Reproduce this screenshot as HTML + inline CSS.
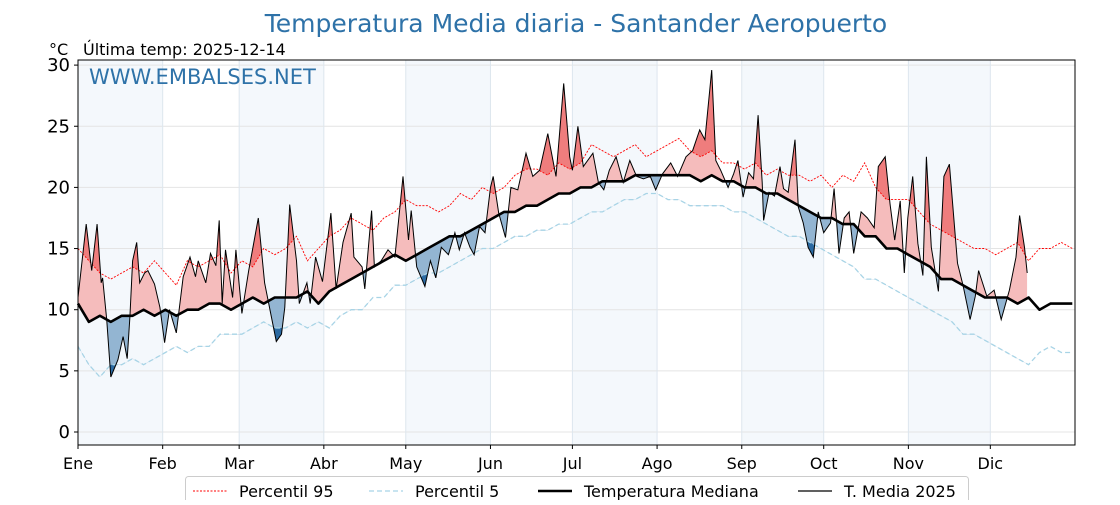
<!DOCTYPE html>
<html><head><meta charset="utf-8"><style>
body{margin:0;background:#fff;}
svg text{font-family:"DejaVu Sans","Liberation Sans",sans-serif;}
</style></head><body>
<svg id="chart" width="1120" height="500" xmlns="http://www.w3.org/2000/svg">
<text x="576" y="32" text-anchor="middle" font-size="25" fill="#2e72a8">Temperatura Media diaria - Santander Aeropuerto</text>
<text x="49" y="55" font-size="16" fill="#000">°C</text>
<text x="83" y="55" font-size="16" fill="#000">Última temp: 2025-12-14</text>
<g id="plot"></g>
</svg>
<script>
const months=["Ene","Feb","Mar","Abr","May","Jun","Jul","Ago","Sep","Oct","Nov","Dic"];
const monthStart=[0,31,59,90,120,151,181,212,243,273,304,334];
const yTicks=[0,5,10,15,20,25,30];
const step=4;
const median=[10.5,9,9.5,9,9.5,9.5,10,9.5, 10,9.5,10,10,10.5,10.5,10, 10.5,11,10.5,11,11,11,11.5,10.5, 11.5,12,12.5,13,13.5,14,14.5, 14,14.5,15,15.5,16,16,16.5,17, 17.5,18,18,18.5,18.5,19,19.5, 19.5,20,20,20.5,20.5,20.5,21,21, 21,21,21,21,20.5,21,20.5,20.5, 20,20,19.5,19.5,19,18.5,18, 17.5,17.5,17,17,16,16,15,15, 14.5,14,13.5,12.5,12.5,12,11.5,11, 11,11,10.5,11,10,10.5,10.5,10.5];
const p95=[15,14,13,12.5,13,13.5,13,14, 13,12,14,13.5,14,14.5,13, 14,13.5,15,14.5,15,16,14,15, 16,16.5,17.5,17,16.5,17.5,18, 19,18.5,18.5,18,18.5,19.5,19,20, 19.5,20,21,21.5,21.5,21,22, 21.5,22,23.5,23,22.5,23,23.5,22.5, 23,23.5,24,23,22.5,23,22,22, 21.5,22,21,21.5,21,21,20.5, 21,20,21,20.5,22,20,19,19, 19,18,17,16.5,16,15.5,15,15, 14.5,15,15.5,14,15,15,15.5,15];
const p5=[7,5.5,4.5,5.5,5.5,6,5.5,6, 6.5,7,6.5,7,7,8,8, 8,8.5,9,8.5,8.5,9,8.5,9, 8.5,9.5,10,10,11,11,12, 12,12.5,13,13,13.5,14,14.5,15, 15,15.5,16,16,16.5,16.5,17, 17,17.5,18,18,18.5,19,19,19.5, 19.5,19,19,18.5,18.5,18.5,18.5,18, 18,17.5,17,16.5,16,16,15.5, 15,14.5,14,13.5,12.5,12.5,12,11.5, 11,10.5,10,9.5,9,8,8,7.5, 7,6.5,6,5.5,6.5,7,6.5,6.5];
const t2025Days=[0,3,5,7,8.5,9,10.5,12,14.6,16.5,18,19,20,21.5,22.6,24.4,25.6,28,30,31.7,33.5,36,38.5,41,43,44,46.8,48.5,50.5,51.7,52.8,54,56.6,57.8,60,62.5,66,68.3,70.8,72.6,74.5,75.7,77.5,80,81,83.8,85,87,89.5,92.6,94.5,97,100,101,104,105,107.5,108.5,111,113.5,116,119,121,122,124,127,129,131,133,135.6,138,139.6,141.5,143.5,145,147,149,151,152,154,156.5,158.5,161,164,166.5,169,172,175,177.8,180,181,183,185,188.5,190.5,192.5,194.5,197,199.6,202,204.5,207,209.5,211.5,214,217,219.5,222.6,225,227.6,229.5,232,233.5,235.3,238,240,241.6,243.5,245.5,247.3,249,250.5,251,253,255,257,258.3,260,262.5,263.7,265.5,267.3,269.2,271,273,275.5,276.8,278.6,280.5,282.3,284,286.7,289,291.5,293,295.5,297.3,299,301,302.5,303.8,305.6,307.5,309.3,310.6,312.4,315,317,319,322,324,326.6,328.5,329.7,332.7,335.4,338,341,343.4,344.7,346.5,347.5];
const t2025Vals=[11,17,13.2,17,12.2,12.6,9.2,4.5,5.9,7.8,6,9.4,14,15.5,12.2,13,13.2,12.1,10.2,7.3,10,8.1,12.7,14.3,12.7,14,12.2,14.6,13.6,17.3,10.5,14.9,11,14.9,9.7,13.2,17.5,12.2,9.4,7.4,8,10.2,18.6,14,10.5,12.2,10.5,14.3,12.3,17.9,11.7,15.5,17.9,14.3,13.5,11.7,18.1,13.5,14,14.9,14.3,20.9,15.7,18.1,13.5,11.9,14,12.6,15.1,14.5,16.3,14.9,16.3,15.1,14.5,16.8,16.3,20,20.9,17.9,15.9,20,19.8,22.8,20.9,21.4,24.4,20.9,28.5,22.5,21.4,25,21.7,22.8,20.4,19.8,21.4,22.5,20.4,22.2,20.9,20.7,20.9,19.8,21.1,22,20.9,22.5,23,24.7,23.9,29.6,22.2,21.4,20,21.1,22.2,19.2,21.2,20.7,25.9,20.4,17.3,19.6,19.3,21.7,19.9,19.6,23.9,18.4,17.1,15.1,14.3,18,16.3,17.1,19.9,14.6,17.5,18,14.6,18,17.5,16.7,21.7,22.5,18.6,15.7,18.9,13,17.5,20.9,15.4,12.8,22.5,15.1,11.5,20.9,21.9,13.8,12,9.2,11.1,13.2,11.1,11.6,9.2,11.6,14.3,17.7,15.1,13];

const NS="http://www.w3.org/2000/svg";
const L=78,R=1075,T=60,B=445;
const xS=d=>L+d*(R-L)/365;
const yS=v=>432-v*12.23;
const plot=document.getElementById('plot');
function el(tag,attrs,parent){const e=document.createElementNS(NS,tag);for(const k in attrs)e.setAttribute(k,attrs[k]);(parent||plot).appendChild(e);return e;}
function pts(arr){return arr.map((v,i)=>xS(i*step).toFixed(1)+','+yS(v).toFixed(1));}
function climAt(arr,d){const f=d/step;const i=Math.min(Math.floor(f),arr.length-2);const r=f-i;return arr[i]*(1-r)+arr[i+1]*r;}
function tAt(d){for(let i=0;i<t2025Days.length-1;i++){if(d<=t2025Days[i+1]){const r=(d-t2025Days[i])/(t2025Days[i+1]-t2025Days[i]);return t2025Vals[i]*(1-r)+t2025Vals[i+1]*r;}}return t2025Vals[t2025Vals.length-1];}

monthStart.forEach((m,i)=>{
  const end=i<11?monthStart[i+1]:365;
  if(i%2===0){
    const r=el('rect',{x:xS(m),y:T,width:xS(end)-xS(m),height:B-T,fill:'#f4f8fc'});
    
    
  }
});
yTicks.forEach(v=>{
  const g=el('line',{x1:L,x2:R,y1:yS(v),y2:yS(v),stroke:'#e4e4e4','stroke-width':1});
  
  
  const t=el('text',{x:70,y:yS(v)+6,'text-anchor':'end','font-size':18,fill:'#000'});
  t.textContent=v;
  
  
  el('line',{x1:L-4,x2:L,y1:yS(v),y2:yS(v),stroke:'#000'});
});
monthStart.forEach((m,i)=>{
  const g=el('line',{x1:xS(m),x2:xS(m),y1:T,y2:B,stroke:'#dde6ee','stroke-width':1});
  
  
  el('line',{x1:xS(m),x2:xS(m),y1:B,y2:B+4,stroke:'#000'});
  const t=el('text',{x:xS(m),y:469,'text-anchor':'middle','font-size':16,fill:'#000'});
  t.textContent=months[i];
  
  
});
const wm=el('text',{x:89,y:84,'font-size':21,fill:'#2e72a8'});
wm.textContent='WWW.EMBALSES.NET';



const lastDay=t2025Days[t2025Days.length-1];
let days=t2025Days.slice();
median.forEach((v,i)=>{if(i*step<lastDay)days.push(i*step);});
days=Array.from(new Set(days)).sort((a,b)=>a-b);
function P(d,v){return xS(d).toFixed(1)+','+yS(v).toFixed(1);}
const tLine=days.map(d=>P(d,tAt(d)));
function line(arr){return days.map(d=>P(d,climAt(arr,d)));}
function band(arr){return tLine.concat(line(arr).reverse()).join(' ');}
function above(arr){return [P(0,40)].concat(line(arr)).concat([P(lastDay,40)]).join(' ');}
function below(arr){return [P(0,-10)].concat(line(arr)).concat([P(lastDay,-10)]).join(' ');}
const defs=el('defs',{});
[['cAm',above(median)],['cBm',below(median)],['cA95',above(p95)],['cB5',below(p5)]].forEach(([id,poly])=>{
  const c=el('clipPath',{id:id},defs);el('polygon',{points:poly},c);
});
let f;
f=el('polygon',{points:band(median),fill:'#f5bcbc','clip-path':'url(#cAm)'});


f=el('polygon',{points:band(median),fill:'#93b5d2','clip-path':'url(#cBm)'});


f=el('polygon',{points:band(p95),fill:'#ef7d7d','clip-path':'url(#cA95)'});


f=el('polygon',{points:band(p5),fill:'#2b6aa2','clip-path':'url(#cB5)'});



let ln;
ln=el('polyline',{points:pts(p95).join(' '),fill:'none',stroke:'#ff0000','stroke-width':0.9,'stroke-dasharray':'2,1.5'});


ln=el('polyline',{points:pts(p5).join(' '),fill:'none',stroke:'#a8d4e6','stroke-width':1.3,'stroke-dasharray':'5,3'});


ln=el('polyline',{points:pts(median).join(' '),fill:'none',stroke:'#000','stroke-width':2.6,'stroke-linejoin':'round'});


ln=el('polyline',{points:t2025Days.map((d,i)=>P(d,t2025Vals[i])).join(' '),fill:'none',stroke:'#000','stroke-width':1});



const frame=el('rect',{x:L,y:T,width:R-L,height:B-T,fill:'none',stroke:'#000','stroke-width':1});



const lg=el('g',{});


el('rect',{x:185.5,y:476.5,width:783,height:30,rx:3,fill:'#fff',stroke:'#ccc'},lg);
const entries=[["Percentil 95",193,'#ff0000',0.9,'2,1.5'],["Percentil 5",369,'#a8d4e6',1.3,'5,3'],["Temperatura Mediana",538,'#000',2.6,''],["T. Media 2025",798,'#000',1.2,'']];
entries.forEach(e=>{
  const g=el('g',{},lg);
  
  
  const a={x1:e[1],x2:e[1]+34,y1:491,y2:491,stroke:e[2],'stroke-width':e[3]};
  if(e[4])a['stroke-dasharray']=e[4];
  el('line',a,g);
  const t=el('text',{x:e[1]+46,y:497,'font-size':16,fill:'#000'},g);
  t.textContent=e[0];
});
</script>
</body></html>
